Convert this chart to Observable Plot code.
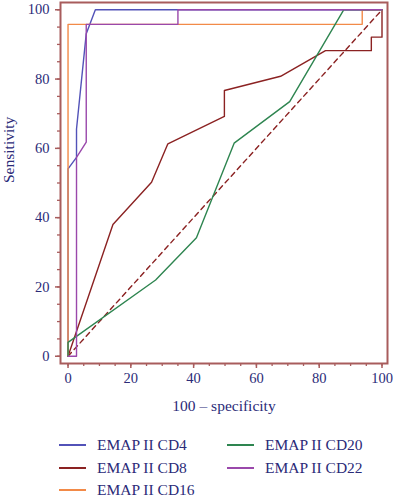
<!DOCTYPE html>
<html>
<head>
<meta charset="utf-8">
<script src="https://cdn.jsdelivr.net/npm/d3@7"></script>
<script src="https://cdn.jsdelivr.net/npm/@observablehq/plot@0.6"></script>
<style>
  body { margin: 0; background: #fff; }
  #wrap { position: relative; width: 393px; height: 500px; font-family: "Liberation Serif", serif; color: #2b2b78; }
  #legend { position: absolute; left: 0; top: 0; width: 393px; height: 500px; pointer-events: none; }
  .item { position: absolute; display: flex; align-items: center; font-size: 15.5px; white-space: nowrap; height: 20px; }
  .swatch { display: inline-block; width: 27px; height: 2px; margin-right: 11px; }
  #chart g[aria-label="x-axis tick label"] text,
  #chart g[aria-label="y-axis tick label"] text { font-size: 14.5px; }
</style>
</head>
<body>
<div id="wrap"><div id="chart"></div><div id="legend"></div></div>
<script>
// Series (x = 100 - specificity, y = sensitivity)
const seriesNames = ["EMAP II CD4", "EMAP II CD8", "EMAP II CD16", "EMAP II CD20", "EMAP II CD22"];
const seriesColors = ["#5252b8", "#8b2222", "#f28a48", "#2e8550", "#9a48ab"];

const cd4X = [0, 0, 2.7, 2.7, 5.8, 8.7, 35, 100];
const cd4Y = [0, 54.1, 57.4, 65.6, 93.1, 100, 100, 100];

const cd8X = [0, 14.3, 26.6, 31.8, 49.8, 49.8, 67.7, 82, 96.6, 96.6, 100, 100];
const cd8Y = [0, 38, 50.2, 61.3, 69.2, 76.7, 80.8, 88.2, 88.2, 92.1, 92.1, 100];

const cd16X = [0, 0, 93.7, 93.7, 100];
const cd16Y = [0, 95.8, 95.8, 100, 100];

const cd20X = [0, 0, 27.9, 40.9, 52.9, 70.6, 87.8, 100];
const cd20Y = [0, 4, 22, 34.2, 61.5, 73.5, 100, 100];

const cd22X = [0, 2.7, 2.7, 5.8, 5.8, 35, 35, 100];
const cd22Y = [0, 0, 57.4, 61.8, 95.8, 95.8, 100, 100];

const refX = [0, 100];
const refY = [0, 100];

const xTicks = [0, 20, 40, 60, 80, 100];
const yTicks = [0, 20, 40, 60, 80, 100];
const minorTicks = d3.range(0, 101, 5);

const allX = [cd4X, cd8X, cd16X, cd20X, cd22X];
const allY = [cd4Y, cd8Y, cd16Y, cd20Y, cd22Y];
const rows = allX.map((xs, i) => xs.map((x, j) => ({x, y: allY[i][j], s: seriesNames[i]})));
const refRows = refX.map((x, j) => ({x, y: refY[j]}));

const axisColor = "#a85c5c";
const textColor = "#2b2b78";

const chart = Plot.plot({
  width: 393,
  height: 415,
  marginLeft: 60,
  marginRight: 6,
  marginTop: 2,
  marginBottom: 52,
  style: {fontFamily: "Liberation Serif, serif", fontSize: "14.5px", color: textColor, background: "#fff"},
  x: {domain: [-2.4, 101.75]},
  y: {domain: [-2.1, 102.1]},
  marks: [
    Plot.line(refRows, {x: "x", y: "y", stroke: "#8b2222", strokeWidth: 1.4, strokeDasharray: "5,4"}),
    ...rows.map((r, i) => Plot.line(r, {x: "x", y: "y", stroke: seriesColors[i], strokeWidth: 1.4})),
    Plot.axisX(minorTicks, {tickSize: 3, stroke: axisColor, strokeWidth: 1.3, text: null, label: null}),
    Plot.axisX(xTicks, {tickSize: 5, stroke: axisColor, strokeWidth: 1.5, tickPadding: 4, fill: textColor, fontSize: 14.5, label: null}),
    Plot.axisY(minorTicks, {tickSize: 3, stroke: axisColor, strokeWidth: 1.3, text: null, label: null}),
    Plot.axisY(yTicks, {tickSize: 5, stroke: axisColor, strokeWidth: 1.5, tickPadding: 6, fill: textColor, fontSize: 14.5, label: null}),
    Plot.frame({stroke: axisColor, strokeWidth: 2}),
    Plot.text(["100 – specificity"], {frameAnchor: "bottom", dy: 47, fontSize: 15.5, fill: textColor}),
    Plot.text(["Sensitivity"], {frameAnchor: "left", dx: -51, rotate: -90, fontSize: 15.5, fill: textColor})
  ]
});
document.getElementById("chart").appendChild(chart);

// Legend
const legendPos = [[59, 445], [59, 468], [59, 490], [227, 445], [227, 468]];
const legend = document.getElementById("legend");
seriesNames.forEach((name, i) => {
  const it = document.createElement("div");
  it.className = "item";
  it.style.left = legendPos[i][0] + "px";
  it.style.top = (legendPos[i][1] - 10) + "px";
  const sw = document.createElement("span");
  sw.className = "swatch";
  sw.style.background = seriesColors[i];
  const tx = document.createElement("span");
  tx.textContent = name;
  it.appendChild(sw);
  it.appendChild(tx);
  legend.appendChild(it);
});
</script>
</body>
</html>
